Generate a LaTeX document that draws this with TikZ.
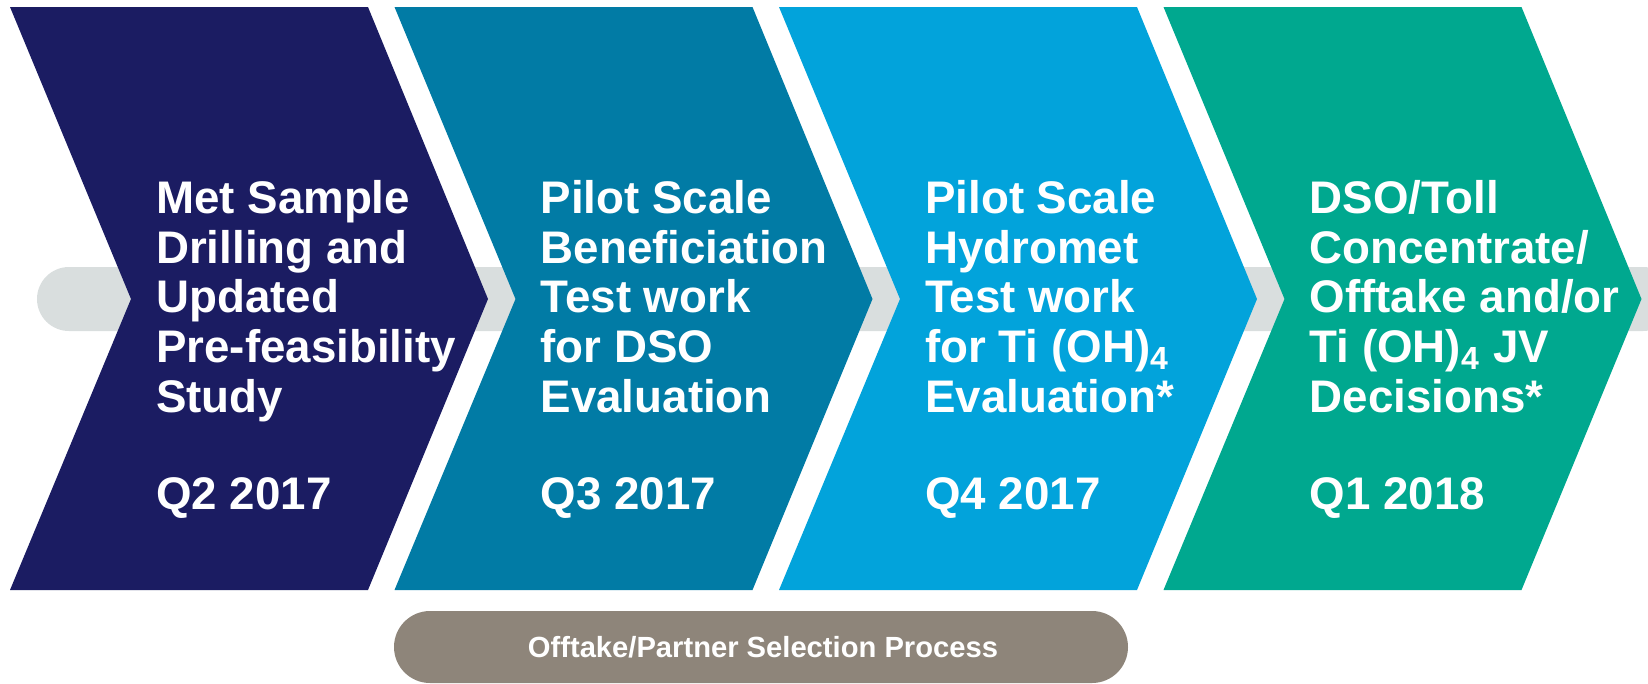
\documentclass[tikz,border=0pt]{standalone}
\usepackage{fontspec}
\setmainfont{Liberation Sans}

\definecolor{stepnavy}{HTML}{1B1C62}
\definecolor{stepteal}{HTML}{017BA5}
\definecolor{stepsky}{HTML}{02A3DB}
\definecolor{stepgreen}{HTML}{00A88F}
\definecolor{bargrey}{HTML}{D9DEDE}
\definecolor{pillgrey}{HTML}{8E857A}

\tikzset{
  steptext/.style={anchor=base west, inner sep=0, align=left, text=white,
    font=\bfseries\fontsize{13}{14.1}\selectfont},
  pilltext/.style={inner sep=0, text=white, font=\bfseries\fontsize{8.3}{10}\selectfont}
}

\begin{document}
\begin{tikzpicture}
\useasboundingbox (0,0) rectangle (16.48,6.83);

% grey bar behind the steps
\fill[bargrey, rounded corners=0.32cm] (0.37,3.52) rectangle (16.75,4.16);

% the four chevrons
\fill[stepnavy] (0.10,6.76) -- (3.68,6.76) -- (4.88,3.84) -- (3.68,0.93) -- (0.10,0.93) -- (1.31,3.84) -- cycle;
\fill[stepteal] (3.945,6.76) -- (7.525,6.76) -- (8.725,3.84) -- (7.525,0.93) -- (3.945,0.93) -- (5.155,3.84) -- cycle;
\fill[stepsky] (7.79,6.76) -- (11.37,6.76) -- (12.57,3.84) -- (11.37,0.93) -- (7.79,0.93) -- (9.00,3.84) -- cycle;
\fill[stepgreen] (11.635,6.76) -- (15.215,6.76) -- (16.415,3.84) -- (15.215,0.93) -- (11.635,0.93) -- (12.845,3.84) -- cycle;

% step texts (base is the last line)
\node[steptext] (drill) at (1.555,2.71) {Met Sample\\Drilling and\\Updated\\Pre-feasibility\\Study};
\node[steptext] (drillq) at (1.555,1.74) {Q2 2017};

\node[steptext] (benef) at (5.40,2.71) {Pilot Scale\\Beneficiation\\Test work\\for DSO\\Evaluation};
\node[steptext] (benefq) at (5.40,1.74) {Q3 2017};

\node[steptext] (hydro) at (9.245,2.71) {Pilot Scale\\Hydromet\\Test work\\for Ti (OH)\textsubscript{4}\\Evaluation*};
\node[steptext] (hydroq) at (9.245,1.74) {Q4 2017};

\node[steptext] (toll) at (13.09,2.71) {DSO/Toll\\Concentrate/\\Offtake and/or\\Ti (OH)\textsubscript{4} JV\\Decisions*};
\node[steptext] (tollq) at (13.09,1.74) {Q1 2018};

% offtake pill
\fill[pillgrey, rounded corners=0.36cm] (3.94,0) rectangle (11.28,0.72);
\node[pilltext] (offtake) at (7.63,0.36) {Offtake/Partner Selection Process};
\end{tikzpicture}
\end{document}
